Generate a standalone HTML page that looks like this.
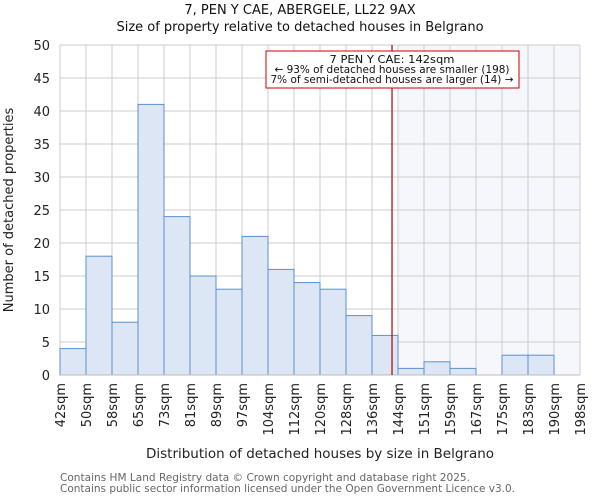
<!DOCTYPE html>
<html><head><meta charset="utf-8"><style>
body{margin:0;background:#fff;font-family:"DejaVu Sans","Liberation Sans",sans-serif}
svg text{font-family:"DejaVu Sans","Liberation Sans",sans-serif}
</style></head><body>
<svg id="c" width="600" height="500"></svg>
<script>
const categories=["42sqm","50sqm","58sqm","65sqm","73sqm","81sqm","89sqm","97sqm","104sqm","112sqm","120sqm","128sqm","136sqm","144sqm","151sqm","159sqm","167sqm","175sqm","183sqm","190sqm","198sqm"];
const counts=[4,18,8,41,24,15,13,21,16,14,13,9,6,1,2,1,0,3,3,0];
const yTicks=[0,5,10,15,20,25,30,35,40,45,50];
const markerBin=12.77;
const highlightFrom=13;
const svg=document.getElementById('c');const NS='http://www.w3.org/2000/svg';
const L=60,R=580,T=45,B=375,yMax=50;
const bw=(R-L)/counts.length;
const x=i=>L+i*bw;const y=v=>B-(B-T)*v/yMax;
function el(t,a,txt){const e=document.createElementNS(NS,t);for(const k in a)e.setAttribute(k,a[k]);if(txt!==undefined)e.textContent=txt;svg.appendChild(e);return e;}
let e;
e=el('rect',{x:x(highlightFrom),y:T,width:R-x(highlightFrom),height:B-T,fill:'#f5f7fd'});

yTicks.forEach(v=>{e=el('line',{x1:L,x2:R,y1:y(v),y2:y(v),stroke:'#cccccc','stroke-width':1});

e=el('text',{x:L-10,y:y(v)+5,'text-anchor':'end','font-size':13,fill:'#222'},v);
});
categories.forEach((c,i)=>{e=el('line',{x1:x(i),x2:x(i),y1:T,y2:B,stroke:'#cccccc','stroke-width':1});

const tx=x(i)+5;e=el('text',{x:0,y:0,transform:`translate(${tx},${B+8}) rotate(-90)`,'text-anchor':'end','font-size':13,fill:'#222'},c);
});
counts.forEach((v,i)=>{if(v<=0)return;e=el('rect',{x:x(i),y:y(v),width:bw,height:B-y(v),fill:'#dce6f4',stroke:'#5b8fd4','stroke-width':1});
});
e=el('line',{x1:L,x2:R,y1:B,y2:B,stroke:'#bbb','stroke-width':1});

const mx=x(markerBin);
e=el('line',{x1:mx,x2:mx,y1:T,y2:B,stroke:'#aa0000','stroke-width':1.2});

e=el('rect',{x:266,y:51,width:253,height:37,fill:'#fff',stroke:'#cc0000','stroke-width':1});

[["7 PEN Y CAE: 142sqm",62,125],["← 93% of detached houses are smaller (198)",72,235],["7% of semi-detached houses are larger (14) →",82,243]].forEach(a=>{
e=el('text',{x:392,y:a[1]+1,'text-anchor':'middle','font-size':11,fill:'#111',textLength:a[2],lengthAdjust:'spacingAndGlyphs'},a[0]);
});
e=el('text',{x:300,y:14,'text-anchor':'middle','font-size':13,fill:'#111'},"7, PEN Y CAE, ABERGELE, LL22 9AX");

e=el('text',{x:300,y:31,'text-anchor':'middle','font-size':13,fill:'#111'},"Size of property relative to detached houses in Belgrano");

e=el('text',{x:0,y:0,transform:'translate(13,210) rotate(-90)','text-anchor':'middle','font-size':13,fill:'#222'},"Number of detached properties");

e=el('text',{x:320,y:458,'text-anchor':'middle','font-size':13,fill:'#222',textLength:348,lengthAdjust:'spacingAndGlyphs'},"Distribution of detached houses by size in Belgrano");

e=el('text',{x:60,y:481,'font-size':10.5,fill:'#666',textLength:410,lengthAdjust:'spacingAndGlyphs'},"Contains HM Land Registry data © Crown copyright and database right 2025.");

e=el('text',{x:60,y:492,'font-size':10.5,fill:'#666',textLength:455,lengthAdjust:'spacingAndGlyphs'},"Contains public sector information licensed under the Open Government Licence v3.0.");

</script>
</body></html>
